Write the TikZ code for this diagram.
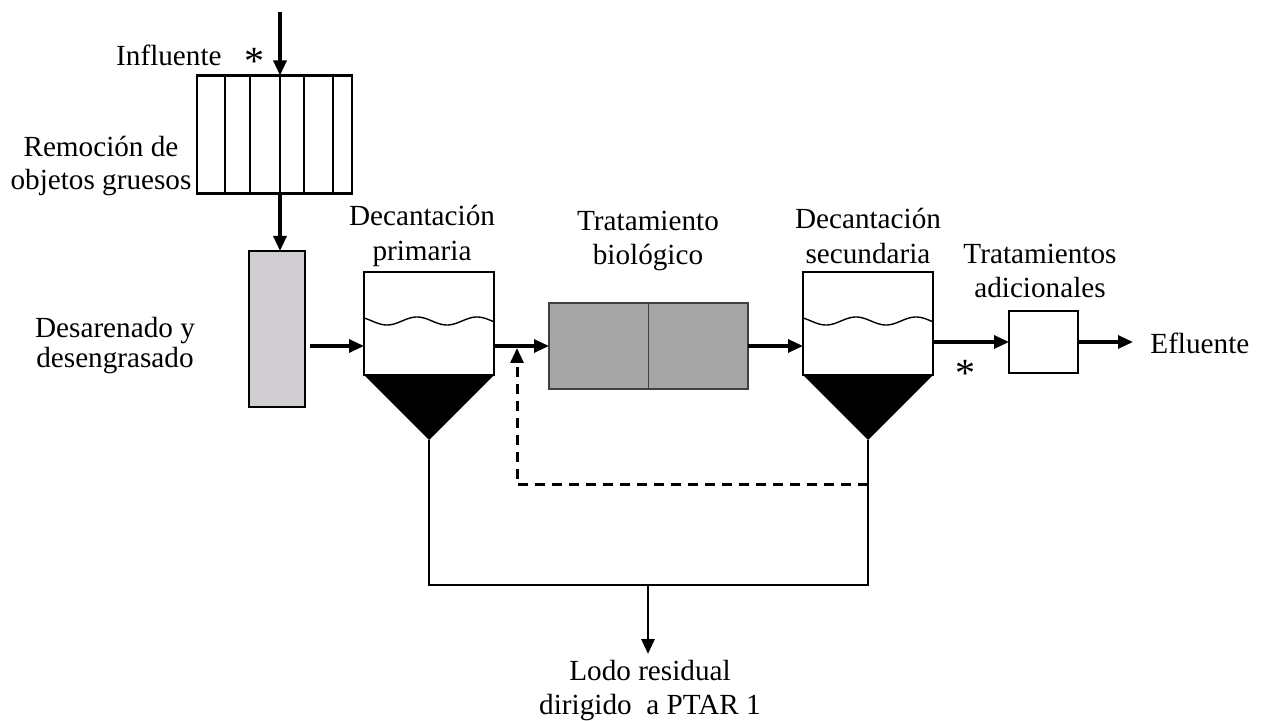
\documentclass[tikz,border=0pt]{standalone}
\usepackage{fontspec}
\setmainfont{Liberation Serif}
\usetikzlibrary{arrows.meta,calc}
\begin{document}
\begin{tikzpicture}[x=0.5pt,y=-0.5pt,
  tip/.style={-{Triangle[length=7.5pt,width=6.5pt]}},
  arr/.style={line width=1.6pt,tip},
  box/.style={draw,line width=1.2pt,inner sep=0,outer sep=0},
  lbl/.style={font=\fontsize{14.6}{16.8}\selectfont,align=center,inner sep=0},
  star/.style={font=\fontsize{20}{20}\selectfont,inner sep=0},
  sludge/.style={line width=1.4pt},
  wave/.style={line width=0.7pt}]
\useasboundingbox (0,0) rectangle (1264,721);

% screen
\node[box,line width=1.4pt,minimum width=77.5pt,minimum height=59pt] (screen) at (274.5,134.5) {};
\foreach \xx in {225,250,280,304,333}
  \draw[line width=1.4pt] (screen.north -| \xx,0) -- (screen.south -| \xx,0);
\coordinate (in) at (280,12);
\draw[arr] (in) -- (in |- screen.north);

% grit
\node[box,fill={rgb,255:red,208;green,206;blue,208},minimum width=28pt,minimum height=78pt] (grit) at (277,329) {};
\draw[arr] (screen.south -| in) -- (grit.north -| in);

% primary settler
\node[box,minimum width=65pt,minimum height=51.5pt] (ps) at (429,323.5) {};
\coordinate (psa) at (429,440);
\fill (ps.south west) -- (ps.south east) -- (psa) -- cycle;
\draw[wave] plot[domain=364:494,samples=80,smooth] (\x,{321+4*sin(((\x-364)/60)*360-48)});

% biological
\node[box,draw={rgb,255:red,64;green,64;blue,64},fill={rgb,255:red,166;green,166;blue,166},minimum width=99.5pt,minimum height=43pt] (bio) at (648.5,346) {};
\draw[line width=0.7pt,draw={rgb,255:red,64;green,64;blue,64}] (bio.north) -- (bio.south);

% secondary settler
\node[box,minimum width=65pt,minimum height=51.5pt] (ss) at (868,323.5) {};
\coordinate (ssa) at (868,440);
\fill (ss.south west) -- (ss.south east) -- (ssa) -- cycle;
\draw[wave] plot[domain=803:933,samples=80,smooth] (\x,{321+4*sin(((\x-803)/60)*360-48)});

% additional
\node[box,minimum width=34.5pt,minimum height=31pt] (add) at (1043.5,342) {};

% labels
\node[lbl,anchor=east] (influ) at (222,55) {Influente};
\node[star] (s1) at (254,61) {*};
\node[lbl] (remo) at (101,166) {Remoción de\\objetos gruesos};
\node[lbl,font=\fontsize{14.6}{15}\selectfont] (desa) at (115,346) {Desarenado y\\desengrasado};
\node[lbl,font=\fontsize{14.6}{17.5}\selectfont] (decp) at (422,236) {Decantación\\primaria};
\node[lbl] (trat) at (648,241) {Tratamiento\\biológico};
\node[lbl,font=\fontsize{14.6}{17.5}\selectfont] (decs) at (868,236) {Decantación\\secundaria};
\node[lbl] (tadd) at (1040,271) {Tratamientos\\adicionales};
\node[lbl,anchor=west] (efl) at (1150,343) {Efluente};
\node[star] (s2) at (965,373) {*};
\node[lbl,anchor=north] (lodo) at (650,660) {Lodo residual\\dirigido\ \ a PTAR 1};

% flow arrows
\coordinate (g1) at (310,346);
\draw[arr] (g1) -- (ps.west |- g1);
\draw[arr] (ps.east |- bio.west) -- (bio.west);
\draw[arr] (bio.east) -- (ss.west |- bio.east);
\draw[arr] (ss.east |- add.west) -- (add.west);
\coordinate (ef) at (1133,342);
\draw[arr] (add.east) -- (ef);

% recycle (dashed)
\coordinate (rc) at (868,485);
\coordinate (rl) at (517,485);
\draw[line width=1.5pt,dash pattern=on 5pt off 3.5pt,tip]
  (rc) -- (rl) -- (rl |- 0,348);

% sludge
\coordinate (sb) at (648,585);
\draw[sludge] (psa) -- (psa |- sb) -- (ssa |- sb) -- (ssa);
\draw[arr,line width=1.4pt] (sb) -- ([yshift=3pt]sb |- lodo.north);
\end{tikzpicture}
\end{document}
